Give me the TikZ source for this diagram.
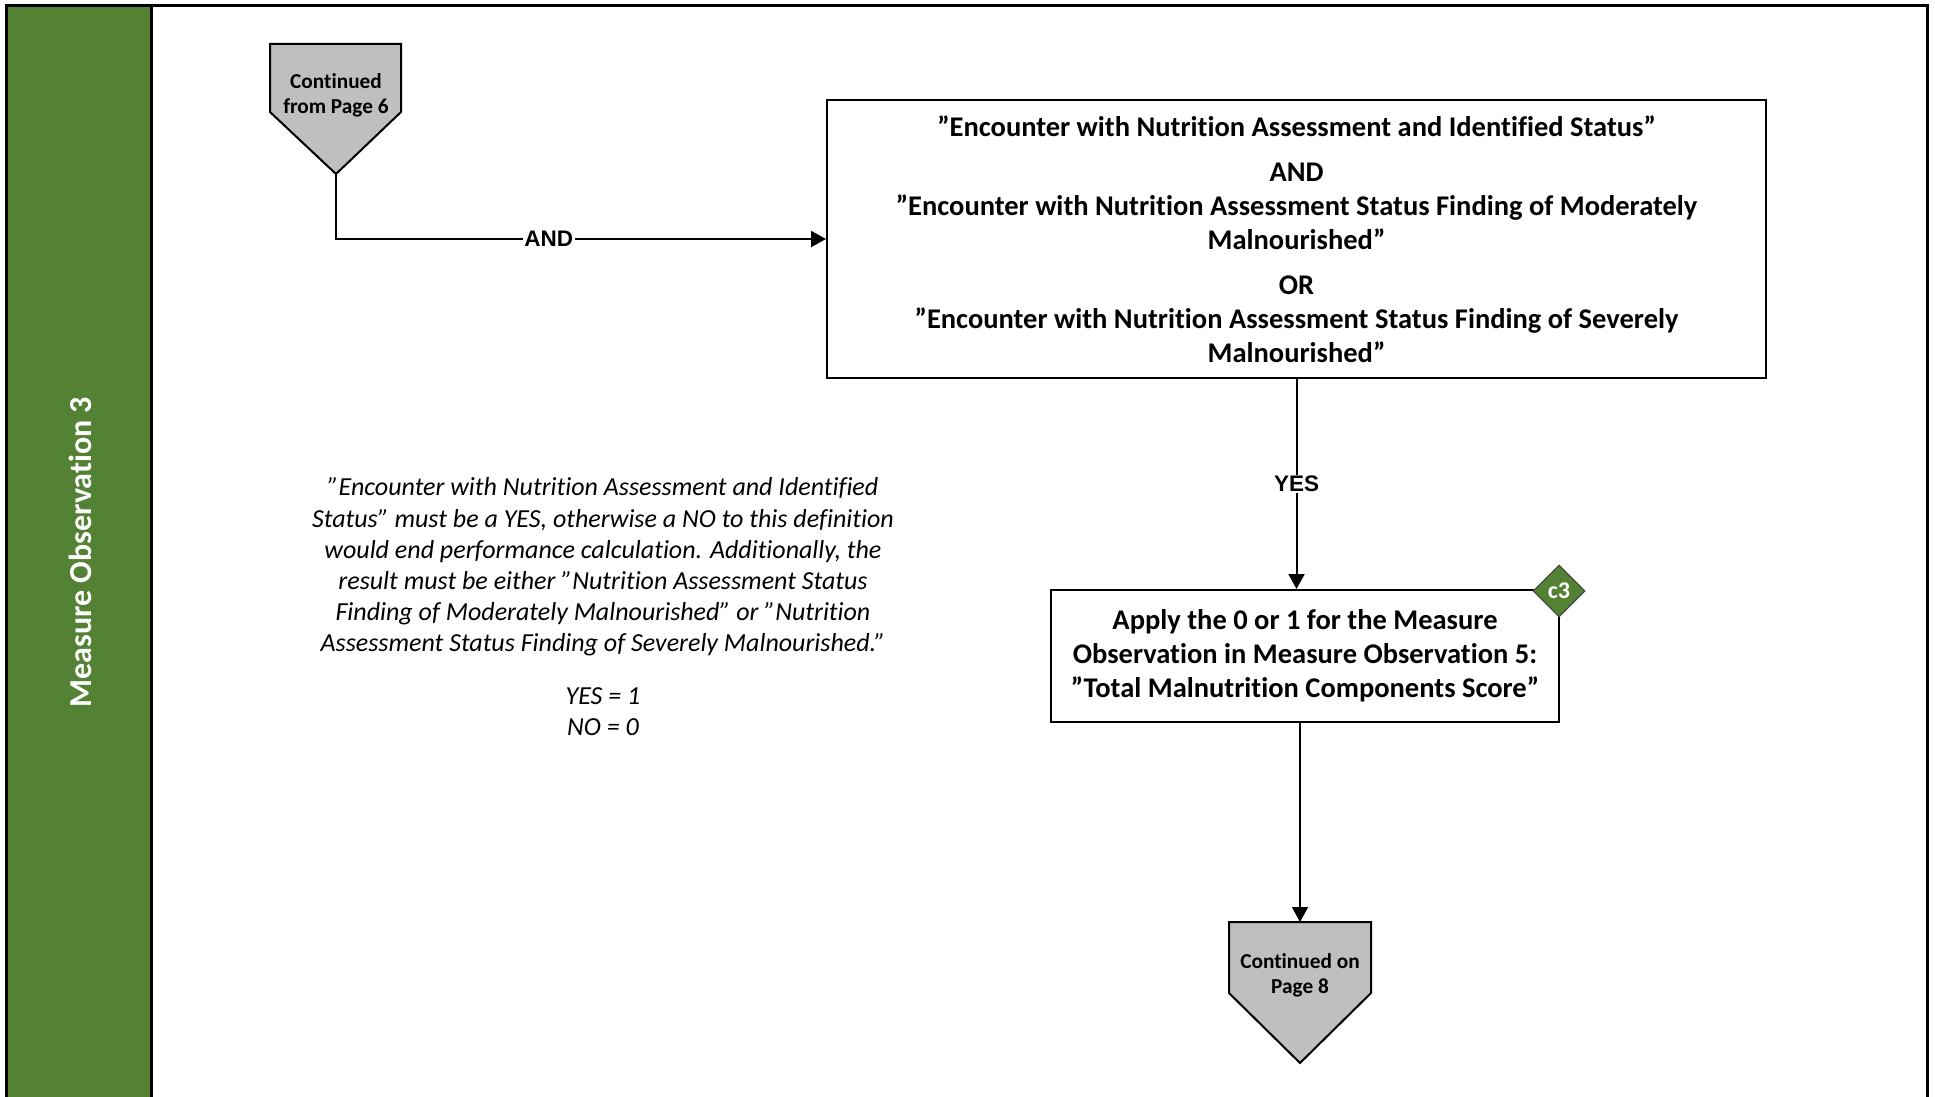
\documentclass[tikz,border=0pt]{standalone}
\usepackage{fontspec}
\setmainfont[Ligatures=NoCommon]{Carlito}
\newfontfamily\lsans{Liberation Sans}
\usetikzlibrary{arrows.meta,shapes.geometric}
\definecolor{bandgreen}{HTML}{548235}
\definecolor{conngray}{HTML}{BFBFBF}
\newcommand{\dq}{\symbol{34}}
\begin{document}
\begin{tikzpicture}[x=1pt,y=-1pt,line width=2pt,
  procbox/.style={draw,fill=white,align=center,inner sep=0pt},
  bigtxt/.style={font=\bfseries\fontsize{28.5}{34}\selectfont},
  applytxt/.style={font=\bfseries\fontsize{28.5}{34}\selectfont},
  arr/.style={-{Triangle[length=15pt,width=16pt]}},
  lbl/.style={fill=white,font=\lsans\bfseries\fontsize{22.5}{26}\selectfont,inner sep=1.5pt},
  conntxt/.style={align=center,font=\bfseries\fontsize{21.3}{25}\selectfont},
  conn/.style={draw,fill=conngray},
  notetxt/.style={align=center,font=\itshape\fontsize{26}{31.2}\selectfont}]
\useasboundingbox (0,0) rectangle (1935,1097);
% lane band and frame
\fill[bandgreen] (6,6) rectangle (151,1097);
\draw[line width=3pt] (6,1097) -- (6,6) -- (1927,6) -- (1927,1097);
\draw[line width=3pt] (151,6) -- (151,1097);
\node[rotate=90,text=white,font=\bfseries\fontsize{32}{34}\selectfont] (side) at (80,552) {Measure Observation 3};
% start connector
\draw[conn] (270,44) -- (401,44) -- (401,112) -- (336,174) -- (270,112) -- cycle;
\coordinate (starttip) at (336,174);
\node[conntxt] (start) at (336,95) {Continued\\from Page 6};
% main box
\node[procbox,bigtxt,minimum width=939pt,minimum height=278pt] (box1) at (1296.5,239)
 {\dq Encounter with Nutrition Assessment and Identified Status\dq\\[11pt]
  AND\\
  \dq Encounter with Nutrition Assessment Status Finding of Moderately\\
  Malnourished\dq\\[11pt]
  OR\\
  \dq Encounter with Nutrition Assessment Status Finding of Severely\\
  Malnourished\dq};
% apply box
\node[procbox,applytxt,minimum width=508pt,minimum height=132pt] (box2) at (1305,656)
 {Apply the 0 or 1 for the Measure\\Observation in Measure Observation 5:\\\dq Total Malnutrition Components Score\dq};
\node[diamond,draw=black!75,line width=1pt,fill=bandgreen,minimum width=52pt,minimum height=52pt,inner sep=0pt,
  text=white,font=\bfseries\fontsize{24}{26}\selectfont] (c3) at (1559,591) {c3};
% end connector
\draw[conn] (1229,922) -- (1371,922) -- (1371,993) -- (1300,1063) -- (1229,993) -- cycle;
\coordinate (endtop) at (1300,922);
\node[conntxt] (endc) at (1300,975) {Continued on\\Page 8};
% note
\node[notetxt] (note) at (603,567) {\dq Encounter with Nutrition Assessment and Identified\\
Status\dq{} must be a YES, otherwise a NO to this definition\\
would end performance calculation. Additionally, the\\
result must be either \dq Nutrition Assessment Status\\
Finding of Moderately Malnourished\dq{} or \dq Nutrition\\
Assessment Status Finding of Severely Malnourished.\dq};
\node[notetxt] (score) at (603,712) {YES = 1\\NO = 0};
% connectors
\draw[arr] (starttip) |- (box1.west) node[lbl,pos=0.717] {AND};
\draw[arr] (box1.south) -- (box1.south |- box2.north) node[lbl,midway] {YES};
\draw[arr] (box2.south -| endtop) -- (endtop);
\end{tikzpicture}
\end{document}
